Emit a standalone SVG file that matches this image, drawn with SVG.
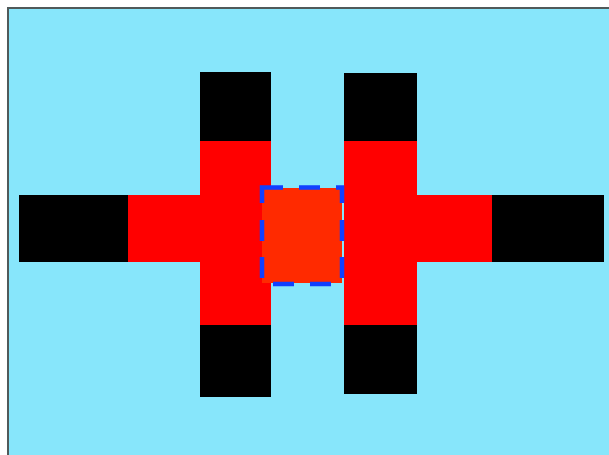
<svg xmlns="http://www.w3.org/2000/svg" width="609" height="455" viewBox="0 0 609 455">
<style>
.bg{fill:#87e6fb;stroke:#505a5a;stroke-width:2}
.blk{fill:#000}
.red{fill:#ff0000}
.ctr{fill:#ff2a00}
.dash{fill:none;stroke:#1040ff;stroke-width:4.5;stroke-linejoin:miter;stroke-linecap:butt}
</style>
<rect width="609" height="455" fill="#ffffff"/>
<rect class="bg" x="8" y="8" width="610" height="460"/>
<g id="left-cross">
<rect class="red" x="200" y="141" width="71" height="184"/>
<rect class="red" x="128" y="195" width="80" height="67"/>
<rect class="blk" x="200" y="72" width="71" height="69"/>
<rect class="blk" x="200" y="325" width="71" height="72"/>
<rect class="blk" x="19" y="195" width="109" height="67"/>
</g>
<g id="right-cross">
<rect class="red" x="344" y="141" width="73" height="184"/>
<rect class="red" x="410" y="195" width="82" height="67"/>
<rect class="blk" x="344" y="73" width="73" height="68"/>
<rect class="blk" x="344" y="325" width="73" height="69"/>
<rect class="blk" x="492" y="195" width="112" height="67"/>
</g>
<g id="center">
<rect class="ctr" x="262" y="188" width="80" height="95"/>
<path class="dash" d="M262,203 V187.5 H283 M299,187.5 H320 M336,187.5 H342 V203 M342,220 V241 M342,257 V278 M331,284 H310 M294,284 H273 M262,278 V257 M262,241 V220"/>
</g>
<g id="connectors"></g>
</svg>
